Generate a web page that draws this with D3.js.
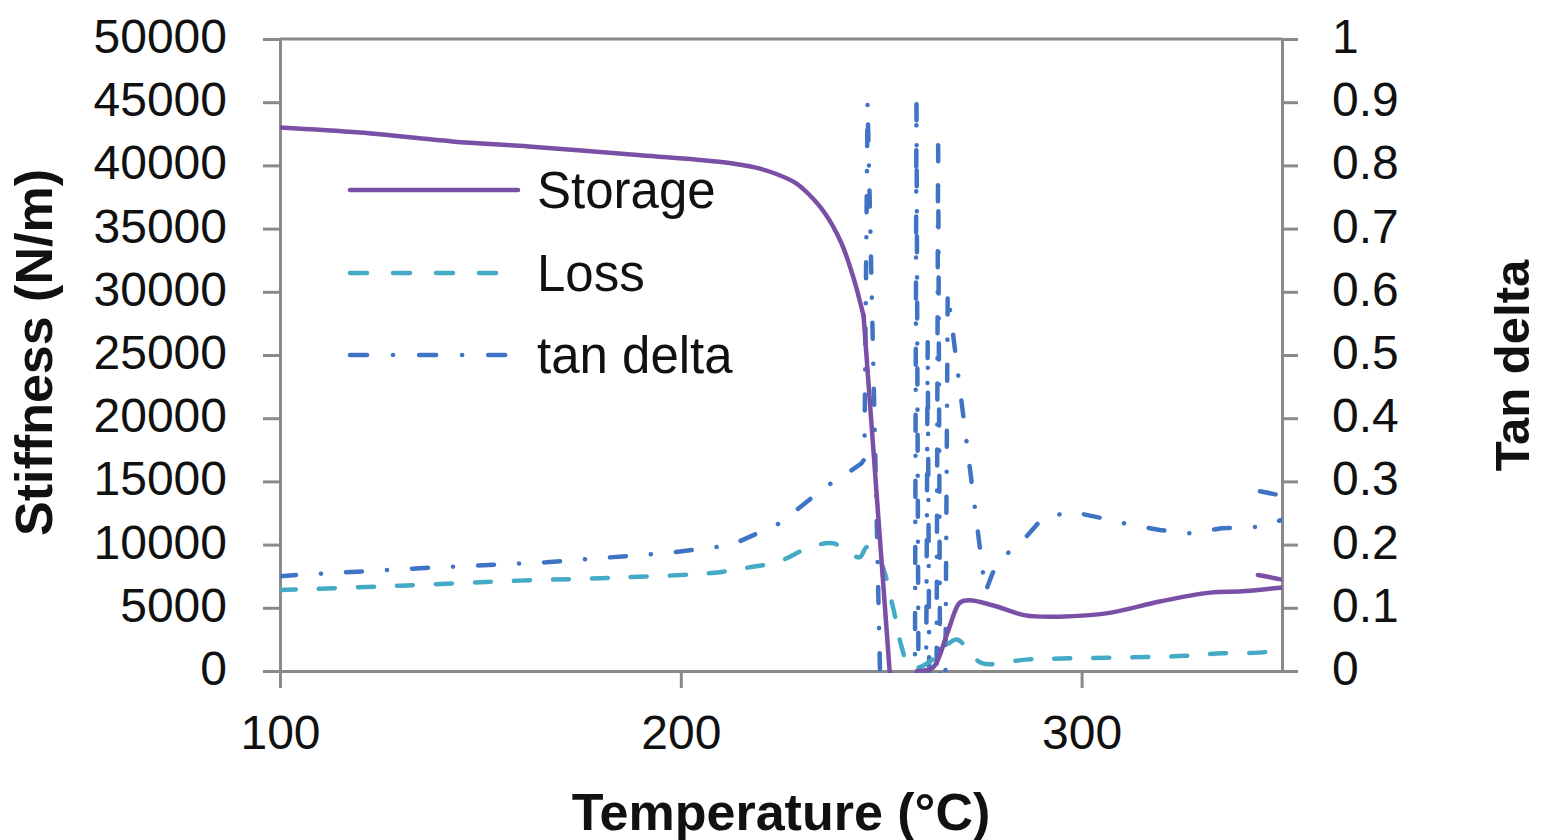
<!DOCTYPE html>
<html>
<head>
<meta charset="utf-8">
<script src="https://cdn.jsdelivr.net/npm/d3@7"></script>
<style>
  html, body { margin: 0; padding: 0; background: #fff; }
  svg { display: block; }
  text { font-family: "Liberation Sans", Arial, sans-serif; fill: #111; }
</style>
</head>
<body>
<svg id="chart" width="1542" height="840"></svg>
<script>
// ---- data ----
const storageTemp = [100,120,143,162,190,209,219,224,228.7,232,236,240,243,245.6,252.1,254,257,259,263,266.5,269.6,272,277.8,286,294.5,307,319.5,332,340,350,352,356,344];
const storageVal  = [43000,42600,41900,41500,40800,40300,39800,39300,38600,37700,36200,33900,31200,28100,0,-1500,-1500,0,300,3000,5400,5600,5200,4400,4300,4600,5500,6200,6300,6600,6650,6750,7600];

const lossTemp = [100,130,160,185,207.6,217,224,232.4,238,244.6,246.4,249.6,252.9,255.1,257.1,259.6,262.8,268.8,272,275.3,286,297,316,326,335,346,350];
const lossVal  = [6400,6750,7150,7400,7750,8200,8600,9800,10100,9000,9800,8800,5100,1900,300,300,900,2500,1500,600,900,1000,1100,1200,1400,1500,1800];

const tanTemp = [100,104.5,136,166.5,197,212.5,224.8,236,242,245,245.8,246.6,249.8,252,256,258.4,258.8,259.3,261.2,261.6,262.0,263.8,264.2,264.7,266.0,266.6,276.0,277.8,280.3,285,290.3,297.5,305,312.5,319.5,327,335,344,350,352,356,344];
const tanVal  = [0.150,0.152,0.163,0.172,0.187,0.199,0.234,0.291,0.315,0.328,0.335,0.90,-0.03,-0.03,-0.03,-0.03,0.90,-0.03,-0.03,0.52,-0.03,-0.03,0.84,-0.03,-0.03,0.60,0.125,0.155,0.18,0.204,0.242,0.252,0.242,0.231,0.223,0.218,0.226,0.228,0.239,0.242,0.27,0.285];

const xTicks = [100, 200, 300];
const yLeftTicks = d3.range(0, 50001, 5000);
const yRightTicks = [0,0.1,0.2,0.3,0.4,0.5,0.6,0.7,0.8,0.9,1];
const seriesNames = ["Storage", "Loss", "tan delta"];

// ---- layout ----
const svg = d3.select("#chart");
const L = 280, R = 1282, T = 39, B = 671;
const x = d3.scaleLinear().domain([100, 350]).range([L, R]);
const yL = d3.scaleLinear().domain([0, 50000]).range([B, T]);
const yR = d3.scaleLinear().domain([0, 1]).range([B, T]);

const axisColor = "#8a8a8a";
const colStorage = "#7a4fa6", colLoss = "#45aac6", colTan = "#3f74c4";

svg.append("defs").append("clipPath").attr("id", "plotclip")
  .append("rect").attr("x", L).attr("y", T - 2).attr("width", R - L).attr("height", B - T + 4);

// top border
svg.append("line").attr("x1", L).attr("x2", R).attr("y1", T).attr("y2", T)
  .attr("stroke", axisColor).attr("stroke-width", 3);

function styleAxis(g) {
  g.selectAll("path.domain").attr("stroke", axisColor).attr("stroke-width", 3);
  g.selectAll(".tick line").attr("stroke", axisColor).attr("stroke-width", 3);
  g.selectAll(".tick text").attr("font-size", 48).attr("fill", "#111")
    .attr("font-family", '"Liberation Sans", Arial, sans-serif');
}

const gL = svg.append("g").attr("transform", `translate(${L},0)`)
  .call(d3.axisLeft(yL).tickValues(yLeftTicks).tickFormat(d3.format("d")).tickSize(17).tickSizeOuter(0).tickPadding(36));
styleAxis(gL);
gL.selectAll(".tick text").attr("dy", "0.28em");

const gR = svg.append("g").attr("transform", `translate(${R},0)`)
  .call(d3.axisRight(yR).tickValues(yRightTicks).tickFormat(d => d === 0 ? "0" : d === 1 ? "1" : d3.format(".1f")(d)).tickSize(16).tickSizeOuter(0).tickPadding(34));
styleAxis(gR);
gR.selectAll(".tick text").attr("dy", "0.28em");

const gB = svg.append("g").attr("transform", `translate(0,${B})`)
  .call(d3.axisBottom(x).tickValues(xTicks).tickFormat(d3.format("d")).tickSize(17).tickSizeOuter(0).tickPadding(27));
styleAxis(gB);

// ---- series ----
const plot = svg.append("g").attr("clip-path", "url(#plotclip)");

const lineLlinear = d3.line().x(d => x(d[0])).y(d => yL(d[1]));
const lineLsmooth = d3.line().x(d => x(d[0])).y(d => yL(d[1])).curve(d3.curveCatmullRom.alpha(0.5));
const lineR = d3.line().x(d => x(d[0])).y(d => yR(d[1]));

const tanData = tanTemp.map((t, i) => [t, tanVal[i]]);
const lossData = lossTemp.map((t, i) => [t, lossVal[i]]);
const storageData = storageTemp.map((t, i) => [t, storageVal[i]]);

plot.append("path").datum(tanData).attr("d", lineR)
  .attr("fill", "none").attr("stroke", colTan).attr("stroke-width", 4.5)
  .attr("stroke-linecap", "round")
  .attr("stroke-dasharray", "16,25,0.1,25").attr("stroke-linejoin", "round");

plot.append("path").datum(lossData).attr("d", lineLsmooth)
  .attr("fill", "none").attr("stroke", colLoss).attr("stroke-width", 4.5)
  .attr("stroke-linecap", "round")
  .attr("stroke-dasharray", "16,23").attr("stroke-linejoin", "round");

// storage: smooth up to the knee, then straight segments
const kneeIdx = storageTemp.indexOf(245.6);
plot.append("path").datum(storageData.slice(0, kneeIdx + 1)).attr("d", lineLsmooth)
  .attr("fill", "none").attr("stroke", colStorage).attr("stroke-width", 4.5)
  .attr("stroke-linejoin", "round").attr("stroke-linecap", "round");
plot.append("path").datum(storageData.slice(kneeIdx, kneeIdx + 5)).attr("d", lineLlinear)
  .attr("fill", "none").attr("stroke", colStorage).attr("stroke-width", 4.5)
  .attr("stroke-linejoin", "round").attr("stroke-linecap", "round");
plot.append("path").datum(storageData.slice(kneeIdx + 4)).attr("d", lineLsmooth)
  .attr("fill", "none").attr("stroke", colStorage).attr("stroke-width", 4.5)
  .attr("stroke-linejoin", "round").attr("stroke-linecap", "round");

// ---- legend ----
const legend = svg.append("g");
const legendItems = [
  { name: seriesNames[0], color: colStorage, dash: null, y: 190 },
  { name: seriesNames[1], color: colLoss, dash: "17,26", y: 273 },
  { name: seriesNames[2], color: colTan, dash: "17,26,0.1,26", y: 355 }
];
legendItems.forEach(it => {
  const ln = legend.append("line").attr("x1", 350).attr("x2", 518).attr("y1", it.y).attr("y2", it.y)
    .attr("stroke", it.color).attr("stroke-width", 4.5).attr("stroke-linecap", "round");
  if (it.dash) ln.attr("stroke-dasharray", it.dash);
  legend.append("text").attr("x", 537).attr("y", it.y + 18).attr("font-size", 51).text(it.name);
});

// ---- axis titles ----
svg.append("text").attr("x", (L + R) / 2).attr("y", 830).attr("text-anchor", "middle")
  .attr("font-size", 52).attr("font-weight", "bold").text("Temperature (°C)");
svg.append("text").attr("transform", "translate(52,352.5) rotate(-90)").attr("text-anchor", "middle")
  .attr("font-size", 52).attr("font-weight", "bold").text("Stiffness (N/m)");
svg.append("text").attr("transform", "translate(1529,365.5) rotate(-90)").attr("text-anchor", "middle")
  .attr("font-size", 49).attr("font-weight", "bold").text("Tan delta");
</script>
</body>
</html>
